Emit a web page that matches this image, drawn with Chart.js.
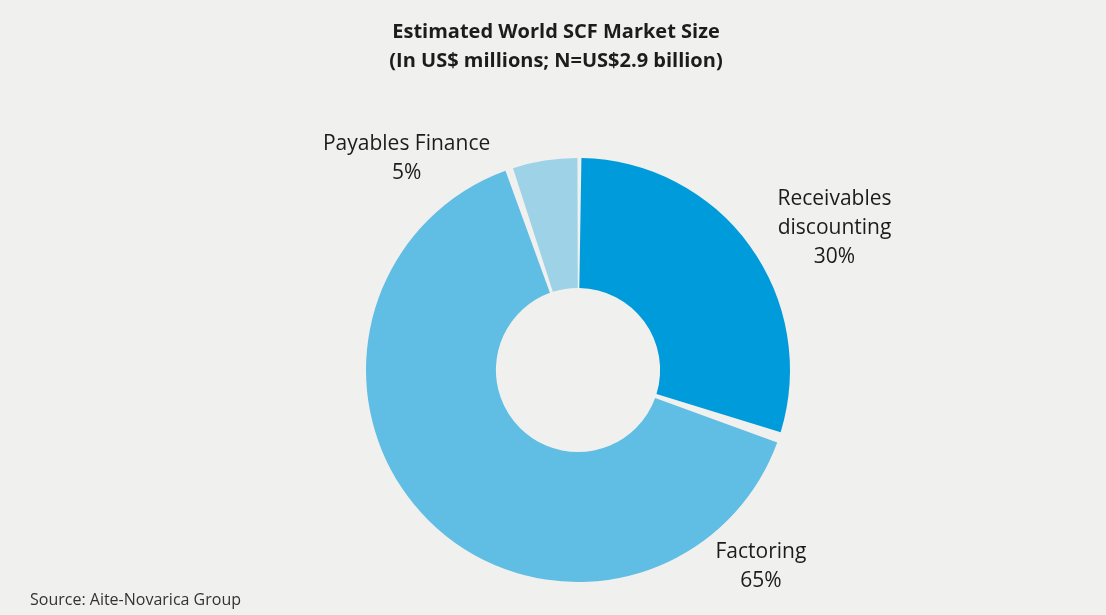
<!DOCTYPE html>
<html>
<head>
<meta charset="utf-8">
<script src="https://cdn.jsdelivr.net/npm/chart.js@4.4.0/dist/chart.umd.min.js"></script>
<style>
  html, body { margin: 0; padding: 0; background: #f0f0ee; }
  #wrap { width: 1106px; height: 615px; }
</style>
</head>
<body>
<div id="wrap"><canvas id="scfChart" width="1106" height="615"></canvas></div>
<script>
const segments = ["Receivables\ndiscounting", "Factoring", "Payables Finance"];
const shares = [30, 65, 5];
const sliceColors = ["#009bdb", "#60bde3", "#9dd2e7"];

const titleLines = ["Estimated World SCF Market Size", "(In US$ millions; N=US$2.9 billion)"];
const sourceNote = "Source: Aite-Novarica Group";

// where each label sits: angle from 12 o'clock (deg) and distance in outer radii
const labelSpots = [
    { angle: 61, dist: 1.40 },
    { angle: 137, dist: 1.28 },
    { angle: -39, dist: 1.30 }
];

const FONT = "'Open Sans', Lato, sans-serif";

const textPlugin = {
    id: "scfText",
    afterDraw(chart) {
        const ctx = chart.ctx;
        ctx.save();
        ctx.fillStyle = "#1c1c1c";
        ctx.textAlign = "center";
        ctx.textBaseline = "middle";

        // heading
        ctx.font = "bold 20px " + FONT;
        titleLines.forEach((line, i) => ctx.fillText(line, 556, 32 + i * 29));

        // slice labels
        const arc = chart.getDatasetMeta(0).data[0];
        const cx = arc.x, cy = arc.y, r = arc.outerRadius;
        ctx.font = "21px " + FONT;
        segments.forEach((name, i) => {
            const a = labelSpots[i].angle * Math.PI / 180;
            const lx = cx + Math.sin(a) * r * labelSpots[i].dist;
            const ly = cy - Math.cos(a) * r * labelSpots[i].dist;
            const lines = name.split("\n").concat([shares[i] + "%"]);
            const top = ly - (lines.length - 1) * 29 / 2;
            lines.forEach((t, j) => ctx.fillText(t, lx, top + j * 29));
        });

        // source
        ctx.textAlign = "left";
        ctx.font = "16px " + FONT;
        ctx.fillStyle = "#333333";
        ctx.fillText(sourceNote, 30, 600);
        ctx.restore();
    }
};

new Chart(document.getElementById("scfChart"), {
    type: "doughnut",
    data: {
        labels: segments,
        datasets: [{
            data: shares,
            backgroundColor: sliceColors,
            borderWidth: 0,
            spacing: 5
        }]
    },
    options: {
        responsive: false,
        animation: false,
        cutout: "38%",
        layout: { padding: { top: 158, bottom: 33, left: 366, right: 316 } },
        plugins: {
            legend: { display: false },
            tooltip: { enabled: false },
            title: { display: false }
        }
    },
    plugins: [textPlugin]
});
</script>
</body>
</html>
